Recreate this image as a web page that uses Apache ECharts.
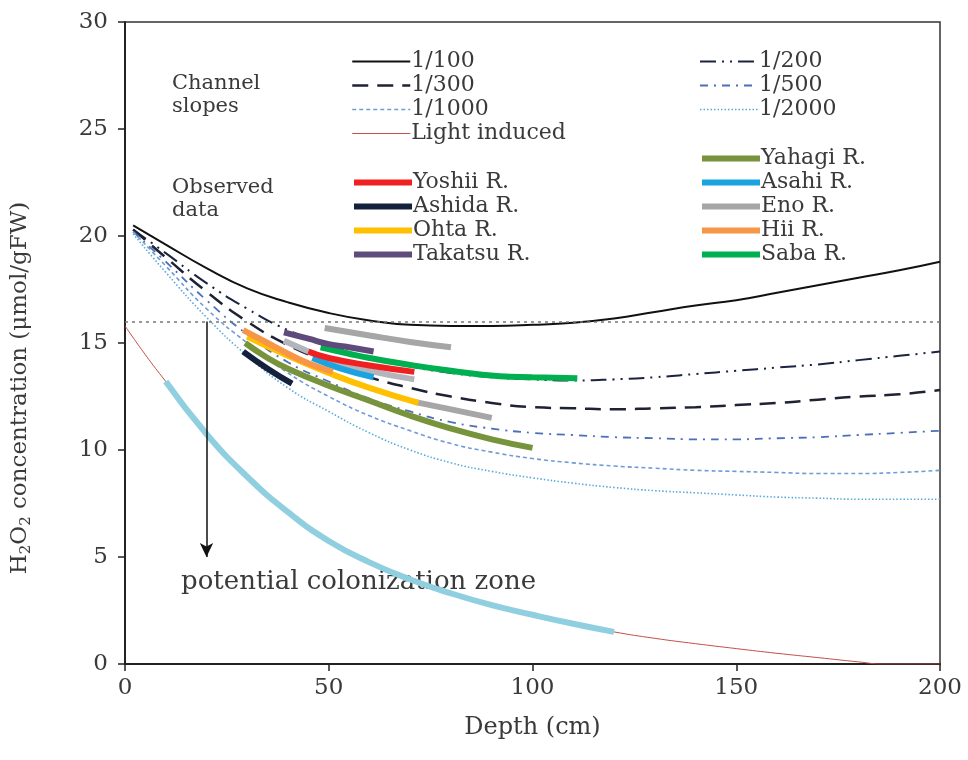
<!DOCTYPE html>
<html>
<head>
<meta charset="utf-8">
<script src="https://cdn.jsdelivr.net/npm/echarts@6/dist/echarts.min.js"></script>
<style>html,body{margin:0;padding:0;background:#fff;}#c{width:968px;height:760px;}</style>
</head>
<body>
<div id="c"></div>
<script>
// ---- Data ----
const slopeDepth = [2, 10, 20, 30, 40, 50, 60, 70, 80, 90, 100, 110, 120, 130, 140, 150, 160, 170, 180, 190, 200];
const slope100  = [20.5, 19.6, 18.5, 17.55, 16.9, 16.4, 16.05, 15.85, 15.8, 15.8, 15.85, 15.95, 16.15, 16.45, 16.75, 17.0, 17.35, 17.7, 18.05, 18.4, 18.8];
const slope200  = [20.3, 19.2, 17.8, 16.6, 15.6, 14.9, 14.3, 13.9, 13.6, 13.4, 13.3, 13.25, 13.3, 13.4, 13.55, 13.7, 13.85, 14.0, 14.2, 14.4, 14.6];
const slope300  = [20.3, 19.0, 17.4, 16.0, 14.9, 14.1, 13.4, 12.9, 12.5, 12.2, 12.0, 11.95, 11.9, 11.95, 12.0, 12.1, 12.2, 12.35, 12.5, 12.6, 12.8];
const slope500  = [20.2, 18.8, 17.0, 15.4, 14.1, 13.2, 12.4, 11.8, 11.3, 11.0, 10.8, 10.7, 10.6, 10.55, 10.5, 10.5, 10.55, 10.6, 10.7, 10.8, 10.9];
const slope1000 = [20.2, 18.6, 16.6, 15.0, 13.6, 12.5, 11.6, 10.9, 10.3, 9.9, 9.6, 9.4, 9.25, 9.15, 9.05, 9.0, 8.95, 8.9, 8.9, 8.95, 9.05];
const slope2000 = [20.1, 18.3, 16.2, 14.4, 12.9, 11.8, 10.8, 10.0, 9.4, 9.0, 8.7, 8.45, 8.25, 8.1, 8.0, 7.9, 7.8, 7.75, 7.7, 7.7, 7.7];

const lightDepth = [0, 5, 10, 20, 30, 40, 50, 60, 70, 80, 90, 100, 110, 120, 130, 140, 150, 160, 170, 180, 186, 200];
const lightConc  = [15.8, 14.45, 13.2, 10.75, 8.75, 7.1, 5.75, 4.75, 3.95, 3.3, 2.75, 2.3, 1.88, 1.5, 1.2, 0.95, 0.72, 0.5, 0.3, 0.1, 0, 0];
const zoneStart = 10, zoneEnd = 120;

const yoshiiX = [45, 50, 60, 71];          const yoshiiY = [14.6, 14.3, 13.95, 13.65];
const ashidaX = [29, 35, 41];              const ashidaY = [14.6, 13.8, 13.1];
const ohtaX   = [30, 40, 50, 60, 72];      const ohtaY   = [15.3, 14.4, 13.6, 12.9, 12.2];
const takatsuX = [39, 45, 50, 55, 61];     const takatsuY = [15.5, 15.2, 14.95, 14.8, 14.6];
const yahagiX = [29.5, 35, 40, 50, 60, 70, 80, 90, 100];
const yahagiY = [15.0, 14.3, 13.8, 13.0, 12.3, 11.6, 11.0, 10.5, 10.1];
const asahiX  = [46, 53, 61];              const asahiY  = [14.3, 13.8, 13.4];
const enoAX = [49, 60, 70, 80];            const enoAY = [15.7, 15.35, 15.05, 14.8];
const enoBX = [39, 45, 50, 60, 71];        const enoBY = [15.1, 14.6, 14.2, 13.7, 13.3];
const enoCX = [71, 80, 90];                const enoCY = [12.25, 11.9, 11.5];
const hiiX  = [29, 35, 40, 45, 51];        const hiiY  = [15.6, 15.0, 14.5, 14.05, 13.65];
const sabaX = [48, 55, 60, 67.5, 80, 92, 100, 111];
const sabaY = [14.8, 14.5, 14.3, 14.05, 13.7, 13.45, 13.4, 13.35];

const thresholdY = 16;
const arrowX = 20, arrowFrom = 16, arrowTo = 5;

const xTicks = {min: 0, max: 200, interval: 50};
const yTicks = {min: 0, max: 30, interval: 5};

// ---- Build ----
const FONT = 'DejaVu Serif';
const TXT = '#3a3a3a';
const zip = (xs, ys) => xs.map((x, i) => [x, ys[i]]);

function lineSeries(name, xs, ys, color, width, type, z, extra) {
  return Object.assign({
    name: name, type: 'line', data: zip(xs, ys), smooth: true,
    symbol: 'none', showSymbol: false, z: z || 2, silent: true,
    lineStyle: {color: color, width: width, type: type || 'solid'},
    itemStyle: {color: color}
  }, extra || {});
}

const lightZoneX = lightDepth.filter(x => x >= zoneStart && x <= zoneEnd);
const lightZoneY = lightConc.filter((y, i) => lightDepth[i] >= zoneStart && lightDepth[i] <= zoneEnd);

const series = [
  lineSeries('1/100', slopeDepth, slope100, '#111111', 2, 'solid', 3, {
    markLine: {
      silent: true, animation: false, label: {show: false},
      data: [
        [{coord: [xTicks.min, thresholdY], symbol: 'none', lineStyle: {color: '#777', type: [3, 4], width: 1.5}},
         {coord: [xTicks.max, thresholdY], symbol: 'none'}],
        [{coord: [arrowX, arrowFrom], symbol: 'none', lineStyle: {color: '#111', type: 'solid', width: 1.5}},
         {coord: [arrowX, arrowTo], symbol: 'arrow', symbolSize: [10, 14]}]
      ]
    }
  }),
  lineSeries('1/200', slopeDepth, slope200, '#1c2340', 2, [16, 6, 2, 6, 2, 6], 3),
  lineSeries('1/300', slopeDepth, slope300, '#1f2233', 2.5, [16, 9], 3),
  lineSeries('1/500', slopeDepth, slope500, '#4d6fb8', 1.8, [8, 6, 2, 6], 3),
  lineSeries('1/1000', slopeDepth, slope1000, '#6f9bd6', 1.6, [4, 3], 3),
  lineSeries('1/2000', slopeDepth, slope2000, '#5aaad8', 1.6, [1.5, 2], 3),
  lineSeries('Light induced', lightDepth, lightConc, '#c0504d', 1, 'solid', 2),
  lineSeries('zone', lightZoneX, lightZoneY, '#8fcfdf', 6, 'solid', 2),
  lineSeries('Eno R.', enoAX, enoAY, '#a6a6a6', 6, 'solid', 4),
  lineSeries('Eno R.', enoBX, enoBY, '#b4b4bc', 6, 'solid', 4),
  lineSeries('Eno R.', enoCX, enoCY, '#a6a6a6', 6, 'solid', 4),
  lineSeries('Asahi R.', asahiX, asahiY, '#1aa3e0', 6, 'solid', 4),
  lineSeries('Yoshii R.', yoshiiX, yoshiiY, '#f02020', 6, 'solid', 4),
  lineSeries('Yahagi R.', yahagiX, yahagiY, '#77933c', 6, 'solid', 4),
  lineSeries('Ohta R.', ohtaX, ohtaY, '#ffc000', 6, 'solid', 4),
  lineSeries('Hii R.', hiiX, hiiY, '#f79646', 6, 'solid', 5),
  lineSeries('Ashida R.', ashidaX, ashidaY, '#14213d', 6, 'solid', 5),
  lineSeries('Saba R.', sabaX, sabaY, '#00b050', 6, 'solid', 5),
  lineSeries('Takatsu R.', takatsuX, takatsuY, '#5f4b7b', 6, 'solid', 6)
];

const legendBase = {
  orient: 'vertical', selectedMode: false, padding: 0,
  itemWidth: 58, itemHeight: 2, itemGap: 1,
  textStyle: {fontFamily: FONT, fontSize: 22, color: TXT, lineHeight: 23, padding: [0, 0, 0, -4]},
  lineStyle: {width: 'inherit'},
  itemStyle: {color: 'rgba(0,0,0,0)', borderWidth: 0, borderColor: 'rgba(0,0,0,0)', opacity: 0}
};

const chart = echarts.init(document.getElementById('c'), null, {renderer: 'canvas'});
chart.setOption({
  animation: false,
  backgroundColor: '#fff',
  grid: {left: 125, right: 28, top: 22, bottom: 96, show: true, borderColor: '#333', borderWidth: 1.5},
  xAxis: {
    type: 'value', min: xTicks.min, max: xTicks.max, interval: xTicks.interval,
    name: 'Depth (cm)', nameLocation: 'middle', nameGap: 52,
    nameTextStyle: {fontFamily: FONT, fontSize: 24, color: TXT},
    axisLine: {lineStyle: {color: '#222', width: 2}},
    axisTick: {show: true, length: 7, lineStyle: {color: '#222', width: 1.5}},
    axisLabel: {fontFamily: FONT, fontSize: 23, color: TXT, margin: 13},
    splitLine: {show: false}
  },
  yAxis: {
    type: 'value', min: yTicks.min, max: yTicks.max, interval: yTicks.interval,
    axisLine: {show: true, lineStyle: {color: '#222', width: 2}},
    axisTick: {show: true, length: 7, lineStyle: {color: '#222', width: 1.5}},
    axisLabel: {fontFamily: FONT, fontSize: 23, color: TXT, margin: 17},
    splitLine: {show: false}
  },
  legend: [
    Object.assign({}, legendBase, {left: 351, top: 50, data: ['1/100', '1/300', '1/1000', 'Light induced']}),
    Object.assign({}, legendBase, {left: 699, top: 50, data: ['1/200', '1/500', '1/2000']}),
    Object.assign({}, legendBase, {left: 351, top: 171, data: ['Yoshii R.', 'Ashida R.', 'Ohta R.', 'Takatsu R.']}),
    Object.assign({}, legendBase, {left: 699, top: 147, data: ['Yahagi R.', 'Asahi R.', 'Eno R.', 'Hii R.', 'Saba R.']})
  ],
  graphic: [
    {type: 'text', left: 172, top: 72, style: {text: 'Channel\nslopes', font: '21px "DejaVu Serif"', fill: TXT, lineHeight: 23}},
    {type: 'text', left: 172, top: 176, style: {text: 'Observed\ndata', font: '21px "DejaVu Serif"', fill: TXT, lineHeight: 23}},
    {type: 'text', left: 181, top: 569, style: {text: 'potential colonization zone', font: '26px "DejaVu Serif"', fill: TXT}},
    {type: 'text', x: 20, y: 388, rotation: Math.PI / 2,
      style: {
        text: '{a|H}{b|2}{a|O}{b|2}{a| concentration (μmol/gFW)}',
        align: 'center', verticalAlign: 'middle',
        rich: {
          a: {fontFamily: FONT, fontSize: 23, fill: TXT, lineHeight: 28},
          b: {fontFamily: FONT, fontSize: 15, fill: TXT, verticalAlign: 'bottom', lineHeight: 22}
        }
      }}
  ],
  series: series
});
</script>
</body>
</html>
